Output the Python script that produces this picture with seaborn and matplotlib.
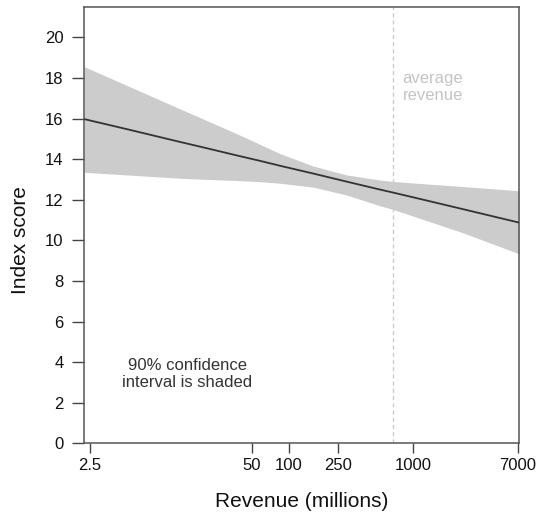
import numpy as np
import seaborn as sns
import matplotlib
matplotlib.use("Agg")
import matplotlib.pyplot as plt
from matplotlib.ticker import NullLocator

# Revenue (millions) at which the fitted score and the 90% band were read
revenue = [2.25, 5, 13, 22, 40, 58, 85, 157, 292, 541, 692, 1135, 2500, 7170]
fitted = [15.97, 15.47, 14.86, 14.53, 14.15, 13.92, 13.67, 13.29, 12.89, 12.50, 12.35, 12.04, 11.54, 10.87]
upper = [18.55, 17.62, 16.50, 15.89, 15.19, 14.74, 14.27, 13.66, 13.22, 12.97, 12.90, 12.80, 12.65, 12.44]
lower = [13.35, 13.22, 13.06, 13.00, 12.94, 12.89, 12.81, 12.62, 12.23, 11.70, 11.52, 11.08, 10.38, 9.33]

avg_revenue = 690
x_ticks = [2.5, 50, 100, 250, 1000, 7000]
x_labels = ["2.5", "50", "100", "250", "1000", "7000"]
y_ticks = list(range(0, 21, 2))

sns.set_style("ticks")
plt.rcParams["font.family"] = ["Liberation Sans", "DejaVu Sans"]

fig = plt.figure(figsize=(5.44, 5.16), dpi=100)
ax = fig.add_axes([0.155, 0.1409, 0.7996, 0.845])

# shaded confidence band, then the fitted line on top
ax.fill_between(revenue, lower, upper, color="#cccccc", linewidth=0, zorder=1)
sns.lineplot(x=revenue, y=fitted, ax=ax, color="#333333", linewidth=1.3, zorder=3)

ax.axvline(avg_revenue, color="#cccccc", linestyle=(0, (3, 2.2)), linewidth=1, zorder=2)

ax.set_xscale("log")
ax.set_xlim(2.25, 7170)
ax.set_ylim(0, 21.48)
ax.set_xticks(x_ticks)
ax.set_xticklabels(x_labels)
ax.xaxis.set_minor_locator(NullLocator())
ax.set_yticks(y_ticks)

for side, spine in ax.spines.items():
    spine.set_visible(True)
    spine.set_color("#555555")
    spine.set_linewidth(1.1)

ax.tick_params(axis="x", length=7.5, width=1, color="#444444", pad=3, labelsize=12, labelcolor="#111111")
ax.tick_params(axis="y", length=8.4, width=1, color="#444444", pad=6.5, labelsize=12, labelcolor="#111111")

ax.set_xlabel("Revenue (millions)", fontsize=15, labelpad=14, color="#111111")
ax.set_ylabel("Index score", fontsize=15, labelpad=11, color="#111111", y=10 / 21.48)

ax.text(824, 17.55, "average\nrevenue", color="#c4c4c4", fontsize=12, ha="left", va="center")
ax.text(15.2, 3.41, "90% confidence\ninterval is shaded", color="#333333", fontsize=12,
        ha="center", va="center")

fig.savefig("out.png", dpi=100)
